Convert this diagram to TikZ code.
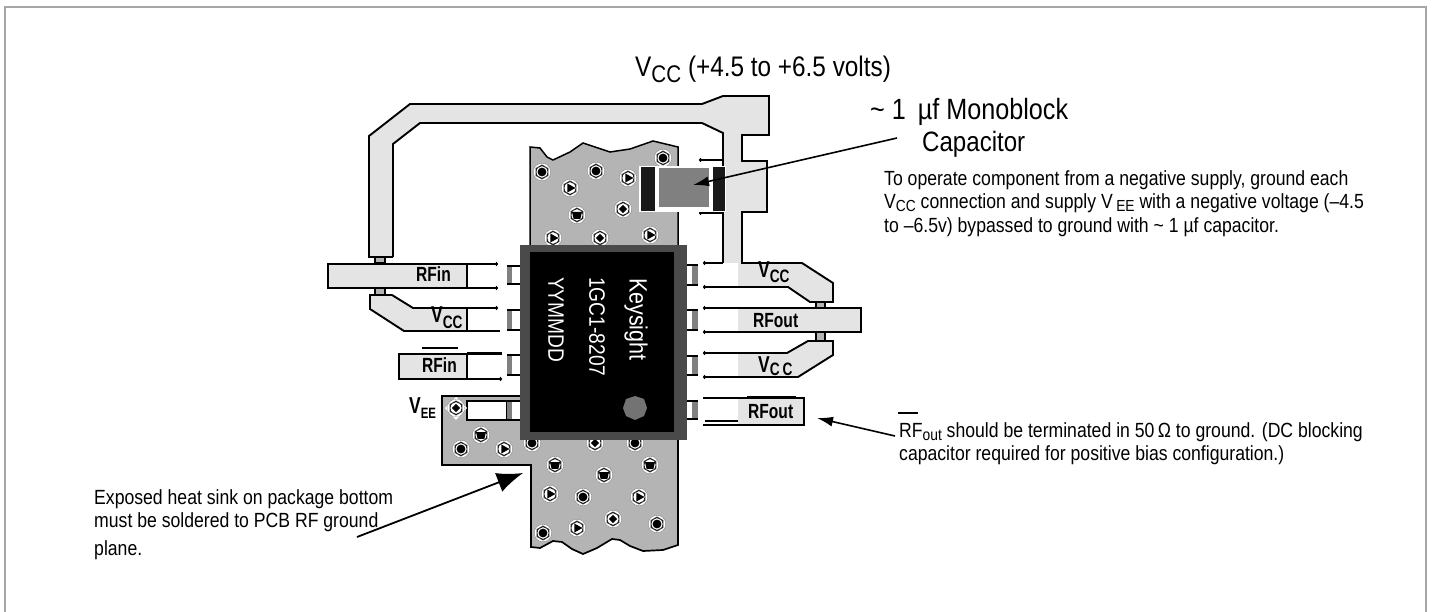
\documentclass[tikz,border=0pt]{standalone}
\usepackage{fontspec}
\setmainfont[FakeStretch=0.86]{Liberation Sans}
\newfontfamily\lblfont[FakeStretch=0.76]{Liberation Sans}
\usetikzlibrary{arrows.meta}
\definecolor{plane}{HTML}{B4B4B4}
\definecolor{trace}{HTML}{E4E4E4}
\definecolor{pkg}{HTML}{4A4A4A}
\definecolor{stripe}{HTML}{808080}
\newcommand{\fsz}[1]{\fontsize{#1}{#1}\selectfont}
\newcommand{\subt}[3]{\raisebox{-#1pt}{\fontsize{#2}{#2}\selectfont #3}}
\newcommand{\bigv}{{\fontsize{23}{23}\selectfont V}}
\newcommand{\tld}{\char`\~}
\tikzset{
  x=1pt,y=-1pt,
  outline/.style={black,line width=1.9pt,line join=miter},
  ball/.style={outline,-{Circle[length=3pt,width=3.4pt]}},
  lbl/.style={inner sep=0pt,anchor=base west,font=\lblfont\bfseries\fsz{20.5}},
  note/.style={inner sep=0pt,anchor=north west,align=left,font=\fontsize{20.5}{23.5}\selectfont},
  big/.style={inner sep=0pt,anchor=base west,font=\fsz{28.3}},
  chip/.style={inner sep=0pt,text=white,rotate=-90,anchor=west},
  via/.pic={
    \fill[white] (0,0) circle (8.4);
    \draw[gray,line width=.4pt,dash pattern=on 1pt off 1pt] (0,0) circle (8.8);
    \draw[black!85,line width=1.5pt] (30:6.6)--(90:6.6)--(150:6.6)--(210:6.6)--(270:6.6)--(330:6.6)--cycle;
    \fill[white] (0,0) circle (5.6);
  },
  viaC/.pic={\pic{via};\fill[black] (0,0) circle (4.4);},
  viaT/.pic={\pic{via};\fill[black] (0:5.4)--(120:5.2)--(240:5.2)--cycle;},
  viaD/.pic={\pic{via};\fill[black] (0:4.2)--(90:4.2)--(180:4.2)--(270:4.2)--cycle;},
  viaU/.pic={\pic{via};\fill[black] (-5,-3)--(5,-3)--(3.4,3.8)--(-3.4,3.8)--cycle;},
}
\begin{document}
\begin{tikzpicture}
\useasboundingbox (0,0) rectangle (1432,612);
% frame
\draw[black!35,line width=1.6pt] (5,612)--(5,7)--(1426,7)--(1426,612);

% ground plane top
\draw[fill=plane,line width=1.5pt] (530,250)--(530,147)--(540,148)--(547,157)--(553,160)--(570,152)--(583,143)--(610,152)--(630,149)--(653,141)--(678,147)--(678,250)--cycle;
% ground plane bottom with VEE tab
\draw[fill=plane,line width=1.7pt] (525,396)--(442,396)--(442,465)--(531,465)--(531,547)--(540,548)--(553,541)--(562,542)--(572,549)--(583,554)--(597,548)--(612,539)--(620,540)--(630,546)--(643,551)--(663,550)--(678,545)--(678,430)--(525,430)--cycle;
% vias
\pic at (663,158) {viaC};\pic at (542,172) {viaC};\pic at (596,171) {viaC};\pic at (628,178) {viaT};\pic at (570,188) {viaT};\pic at (623,209) {viaD};\pic at (577,215) {viaU};\pic at (553,238) {viaT};\pic at (600,238) {viaD};\pic at (650,235) {viaT};
\pic at (481,435) {viaU};\pic at (461,449) {viaC};\pic at (504,449) {viaT};\pic at (532,443) {viaC};\pic at (595,443) {viaD};\pic at (635,443) {viaC};\pic at (555,465) {viaU};\pic at (650,465) {viaU};\pic at (604,475) {viaU};\pic at (550,494) {viaT};\pic at (583,497) {viaC};\pic at (639,497) {viaT};\pic at (613,519) {viaD};\pic at (577,528) {viaT};\pic at (657,524) {viaC};\pic at (543,533) {viaC};

% Vcc main trace
\fill[trace] (369,257)--(369,136)--(410,104)--(702,104)--(723,96)--(769,96)--(769,135)--(742,135)--(742,161)--(767,161)--(767,212)--(742,212)--(742,263)--(802,263)--(833,283)--(833,302)--(810,302)--(788,287)--(738,287)--(738,263)--(723,263)--(723,133)--(702,123)--(420,123)--(393,144)--(393,257)--cycle;
\draw[outline] (393,257)--(369,257)--(369,136)--(410,104)--(702,104)--(723,96)--(769,96)--(769,135)--(742,135)--(742,161)--(767,161)--(767,212)--(742,212)--(742,263)--(802,263)--(833,283)--(833,302)--(810,302)--(788,287)--(738,287);
\draw[outline] (393,257)--(393,144)--(420,123)--(702,123)--(723,133)--(723,263);
\draw[ball] (723,263)--(703,263);
\draw[ball] (738,287)--(703,287);
\draw[ball] (723,160)--(699,160);
\draw[ball] (723,213)--(699,213);

% via stubs
\foreach \xa/\ya/\xb/\yb in {375/257/385/263,375/288/385/295,816/302/825/308,816/332/825/341}{
  \draw[black,line width=1.2pt,fill=plane] (\xa,\ya) rectangle (\xb,\yb);
}

% left traces
\fill[trace] (328,264) rectangle (467,288);
\draw[outline] (467,264)--(328,264)--(328,288)--(467,288)--cycle;
\draw[ball] (467,264)--(498,264);
\draw[ball] (467,288)--(498,288);

\fill[trace] (370,295)--(392,295)--(413,308)--(467,308)--(467,331)--(404,331)--(370,309)--cycle;
\draw[outline] (392,295)--(370,295)--(370,309)--(404,331)--(467,331)--(467,308);
\draw[outline] (392,295)--(413,308)--(467,308);
\draw[ball] (467,308)--(498,308);
\draw[outline] (467,331)--(500,331);

\fill[trace] (399,354) rectangle (467,379);
\draw[outline] (467,354)--(399,354)--(399,379)--(467,379)--cycle;
\draw[black,line width=3pt] (467,353)--(502,353);
\draw[ball] (467,379)--(502,379);
\draw[black,line width=2.2pt] (422,348)--(458,348);

% VEE land
\draw[black,line width=1.7pt,fill=white] (467,401) rectangle (507,420);

% right traces
\fill[trace] (738,308) rectangle (861,332);
\draw[outline] (738,308)--(861,308)--(861,332)--(738,332);
\draw[ball] (738,308)--(703,308);
\draw[ball] (738,332)--(703,332);

\fill[trace] (738,353)--(787,353)--(808,341)--(833,341)--(833,355)--(798,377)--(738,377)--cycle;
\draw[outline] (738,353)--(787,353)--(808,341)--(833,341)--(833,355)--(798,377)--(738,377);
\draw[ball] (738,353)--(703,353);
\draw[ball] (738,377)--(703,377);

\fill[trace] (738,398) rectangle (804,424);
\draw[outline] (703,398)--(804,398)--(804,425)--(703,425);
\draw[black,line width=3pt] (747,397)--(796,397);
\draw[outline] (738,421)--(705,421);

% package leads
\foreach \ya/\yb in {266/284,310/330,355/375,401/420}{
  \fill[white] (507,\ya) rectangle (521,\yb);
  \fill[stripe] (507,\ya) rectangle (512,\yb);
  \draw[black,line width=1.5pt] (507,\ya)--(521,\ya) (507,\yb)--(521,\yb);
}
\foreach \ya/\yb in {265/285,310/330,356/375,401/419}{
  \fill[white] (686,\ya) rectangle (698,\yb);
  \fill[stripe] (692,\ya) rectangle (698,\yb);
  \draw[black,line width=1.5pt] (686,\ya)--(698,\ya) (686,\yb)--(698,\yb);
}
% package
\fill[pkg] (520,245) rectangle (687,440);
\fill[black] (530,252) rectangle (674,432);
\fill[stripe!110] (647,408)--(644,416)--(635,420)--(626,416)--(623,408)--(626,399)--(635,396)--(644,399)--cycle;
\node[chip,font=\fsz{25}] (keysight) at (636,278) {Keysight};
\node[chip,font=\fsz{22.3}] (partno) at (597,277) {1GC1-8207};
\node[chip,font=\fsz{22.3}] (datecode) at (556,277) {YYMMDD};

% VEE via
\fill[white] (456,397)--(467,408)--(456,420)--(445,408)--cycle;
\pic at (456,408) {viaD};

% capacitor
\fill[white] (639,166) rectangle (726,212);
\fill[black!90] (641,167) rectangle (655,211);
\fill[black!90] (713,167) rectangle (725,211);
\fill[stripe] (659,168) rectangle (709,207);

% labels
\node[lbl] (rfin1) at (416,282) {RFin};
\node[lbl] (vcc1) at (431,322) {\bigv\subt{6}{18}{CC}};
\node[lbl] (rfin2) at (422,372) {RFin};
\node[lbl] (vee) at (409,413) {\bigv\subt{5}{15}{EE}};
\node[lbl] (vcc2) at (758,278) {\bigv\subt{5}{18}{CC}};
\node[lbl] (rfout1) at (753,327) {RFout};
\node[lbl] (vcc3) at (758,372) {\bigv\subt{3}{18}{C\,C}};
\node[lbl] (rfout2) at (748,418) {RFout};

% text
\node[big] (vcctitle) at (635,77) {V\subt{6}{24}{CC} (+4.5 to +6.5 volts)};
\node[big,font=\fsz{29.3}] (mono1) at (870,120) {\tld\ 1 \,µf Monoblock};
\node[big,font=\fsz{28}] (mono2) at (922,152) {Capacitor};
\node[note] (negnote) at (884,170) {To operate component from a negative supply, ground each\\V\subt{3}{16}{CC} connection and supply V\,\subt{3}{16}{EE} with a negative voltage (–4.5\\to –6.5v) bypassed to ground with \tld\ 1 µf capacitor.};
\node[note] (rfnote) at (899,422) {RF\subt{3}{16}{out} should be terminated in 50\,Ω to ground. (DC blocking\\capacitor required for positive bias configuration.)};
\draw[black,line width=2.2pt] (898,413)--(918,413);
\node[note] (sinknote) at (94,489) {Exposed heat sink on package bottom\\must be soldered to PCB RF ground\\[4pt]plane.};

% arrows
\coordinate (captail) at (897,138);
\coordinate (captip) at (693,185);
\coordinate (rftail) at (895,436);
\coordinate (rftip) at (817,418);
\coordinate (sinktail) at (357,537);
\coordinate (sinktip) at (523,473);
\draw[black,line width=1.6pt,-{Latex[length=16pt,width=10pt]}] (captail)--(captip);
\draw[black,line width=1.6pt,-{Latex[length=16pt,width=10pt]}] (rftail)--(rftip);
\draw[black,line width=1.8pt,-{Latex[length=26pt,width=20pt]}] (sinktail)--(sinktip);
\end{tikzpicture}
\end{document}
